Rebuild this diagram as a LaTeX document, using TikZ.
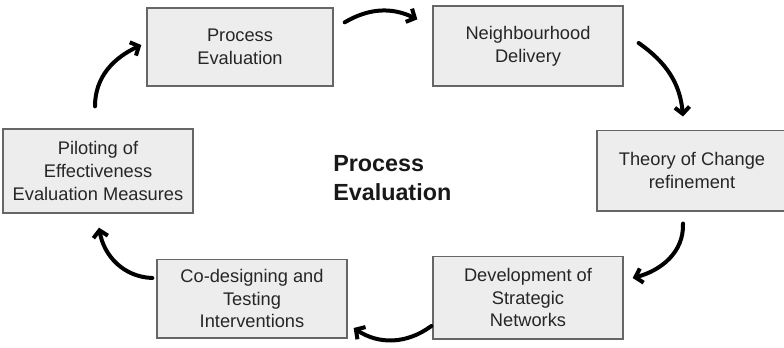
\documentclass[tikz,border=0pt]{standalone}
\usepackage{fontspec}
\setmainfont{Liberation Sans}
\usetikzlibrary{arrows.meta, calc}

\begin{document}
\begin{tikzpicture}[x=0.75pt, y=-0.75pt,
	box/.style={draw=black!60, line width=1pt, fill=black!7, minimum width=142.5pt, minimum height=60.5pt, inner sep=0pt, align=center, text=black!85, font=\fontsize{13.7}{17}\selectfont},
	cyc/.style={line width=3pt, line cap=round, line join=round, -{Straight Barb[length=5pt,width=11pt]}}]

			\clip (0,0) rectangle (784,347);
			% Title
			\node[anchor=north west, inner sep=0pt, align=left, text=black!90, font=\bfseries\fontsize{17.5}{21.75}\selectfont] (title) at (333,155) {Process\\Evaluation};

			% Steps
			\node[box, minimum width=139.5pt, minimum height=58.5pt] (procev) at (240,47) {Process\\Evaluation};
			\node[box, minimum height=60pt]   (nbhd)   at (528,46)    {Neighbourhood\\Delivery};
			\node[box]                        (theory) at (692,170.5) {Theory of Change\\refinement};
			\node[box, minimum height=62pt]   (devnet) at (528,297.5) {Development of\\Strategic\\Networks};
			\node[box, minimum height=59pt]   (codes)  at (252,298.5) {Co-designing and\\Testing\\Interventions};
			\node[box, minimum height=63pt]   (pilot)  at (98,171)    {Piloting of\\Effectiveness\\Evaluation Measures};

			% Arrows round the cycle
			\draw[cyc] ($(procev.north east)+(11,15)$) to[bend left=28] ($(nbhd.north west)+(-15,14)$);
			\draw[cyc] ($(nbhd.east)+(15,-3)$) to[out=-35, in=95] ($(theory.north)+(-9,-13)$);
			\draw[cyc] ($(theory.south)+(-9,12)$) to[out=-88, in=15] ($(devnet.east)+(9,-19.5)$);
			\draw[cyc] ($(devnet.west)+(-1,28.5)$) to[bend left=35] ($(codes.east)+(6,29.5)$);
			\draw[cyc] ($(codes.west)+(-4,-20.5)$) to[out=178, in=-80] ($(pilot.south)+(1,14)$);
			\draw[cyc] ($(pilot.north)+(-3,-22)$) to[out=90, in=205] ($(procev.west)+(-5,-2)$);
		\end{tikzpicture}
\end{document}
